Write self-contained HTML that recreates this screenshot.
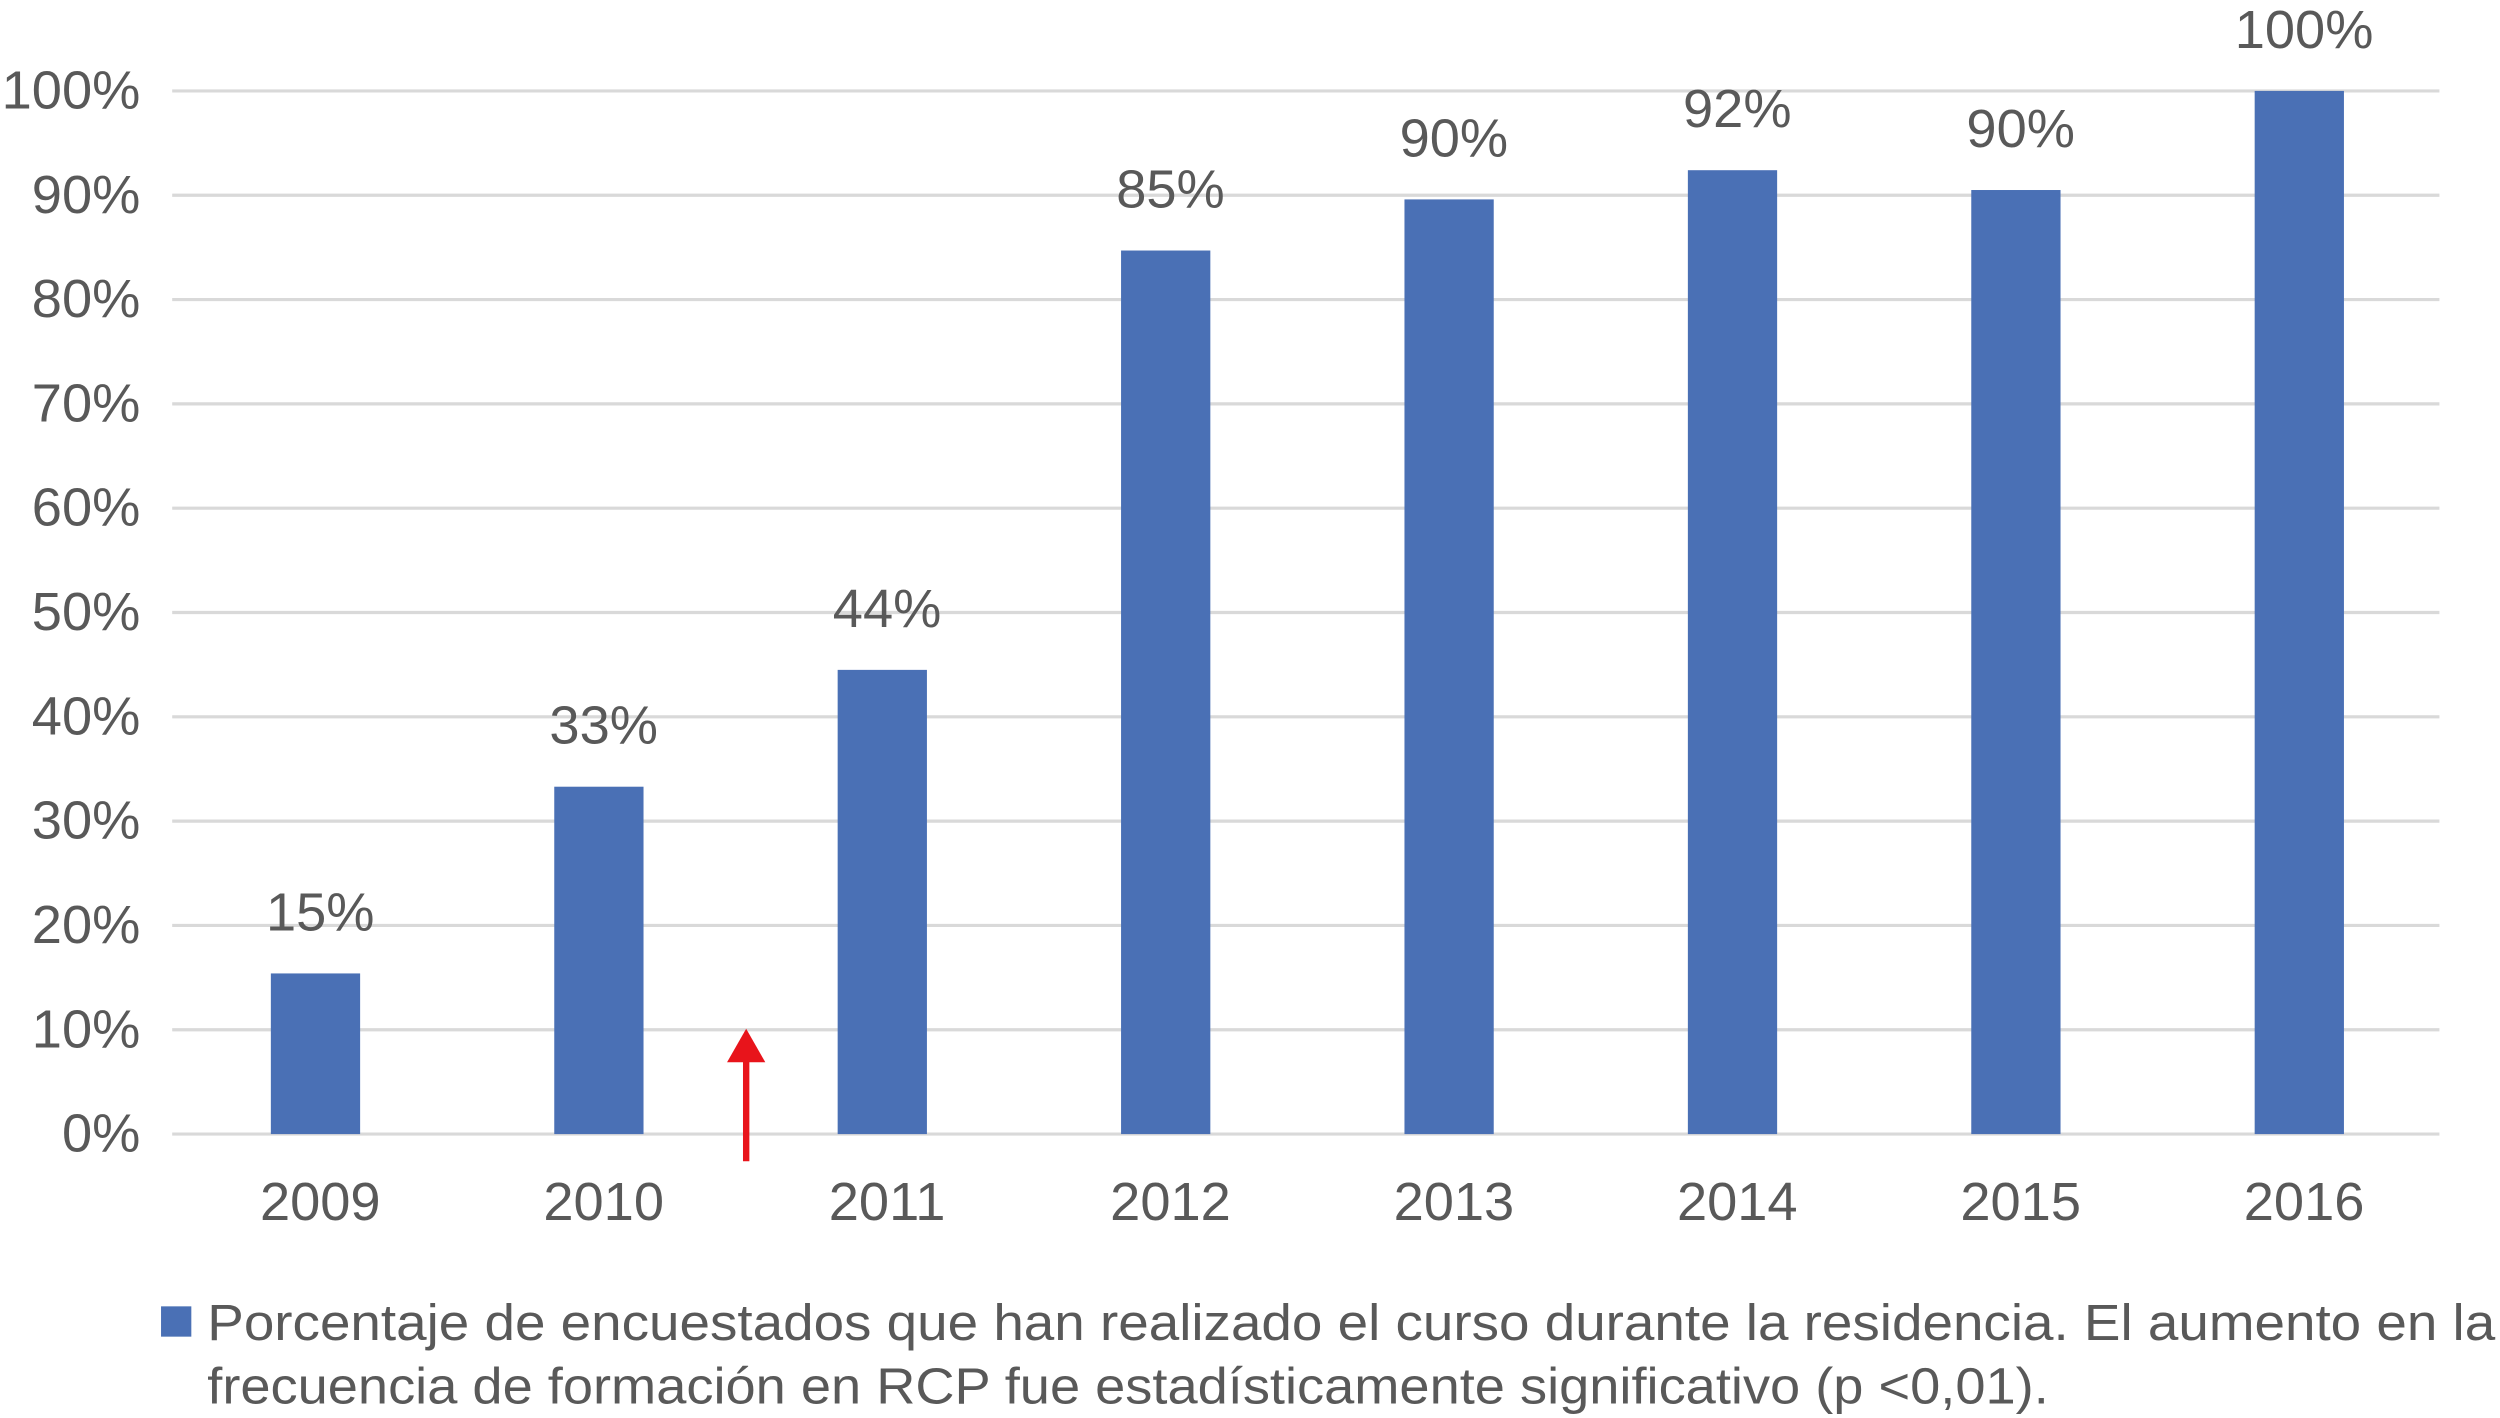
<!DOCTYPE html>
<html><head><meta charset="utf-8"><style>
html,body{margin:0;padding:0;background:#fff;}
svg{display:block;}
text{font-family:"Liberation Sans",Arial,sans-serif;fill:#595959;}
</style></head><body>
<svg id="chart" width="2500" height="1418" viewBox="0 0 1568 889" preserveAspectRatio="none" xmlns="http://www.w3.org/2000/svg">
<g id="grid"></g>
<g id="yticks"></g>
<g id="bars"></g>
<g id="xticks"></g>
<g>
<line x1="468" y1="728" x2="468" y2="662" stroke="#e8141b" stroke-width="4"/>
<polygon points="456,666 480,666 468,645" fill="#e8141b"/>
</g>
<g>
<rect x="101" y="819" width="19" height="19" fill="#4a70b5"/>
<text x="130" y="840" font-size="32" textLength="1435" lengthAdjust="spacingAndGlyphs">Porcentaje de encuestados que han realizado el curso durante la residencia. El aumento en la</text>
<text x="130" y="880" font-size="32" textLength="1155" lengthAdjust="spacingAndGlyphs">frecuencia de formación en RCP fue estadísticamente significativo (p &lt;0,01).</text>
</g>
</svg>
<script>
const categories = ["2009","2010","2011","2012","2013","2014","2015","2016"];
const values = [15.4, 33.3, 44.5, 84.7, 89.6, 92.4, 90.5, 100];
const valueLabels = ["15%","33%","44%","85%","90%","92%","90%","100%"];
const yTicks = [0,10,20,30,40,50,60,70,80,90,100];
const yTickLabels = ["0%","10%","20%","30%","40%","50%","60%","70%","80%","90%","100%"];

const NS = "http://www.w3.org/2000/svg";
const X0 = 108, X1 = 1530, Y0 = 711, Y1 = 57;
const band = (X1 - X0) / categories.length;
const xCenter = i => X0 + band * (i + 0.5);
const yScale = v => Y0 - (v / 100) * (Y0 - Y1);
function mk(tag, attrs, parent, txt) {
  const e = document.createElementNS(NS, tag);
  for (const k in attrs) e.setAttribute(k, attrs[k]);
  if (txt !== undefined) e.textContent = txt;
  parent.appendChild(e);
  return e;
}
const grid = document.getElementById('grid');
const yt = document.getElementById('yticks');
yTicks.forEach((t, i) => {
  const l = mk('line', {x1: X0, x2: X1, y1: yScale(t), y2: yScale(t), stroke: '#d9d9d9', 'stroke-width': 2}, grid);
  
  
  const tx = mk('text', {x: 88, y: yScale(t) + 11, 'font-size': 34, 'text-anchor': 'end'}, yt, yTickLabels[i]);
  
  
});
const bars = document.getElementById('bars');
const xt = document.getElementById('xticks');
const bw = band * 0.315;
categories.forEach((c, i) => {
  const r = mk('rect', {x: xCenter(i) - bw / 2 + 1, y: yScale(values[i]), width: bw, height: Y0 - yScale(values[i]), fill: '#4a70b5'}, bars);
  
  
  const vl = mk('text', {x: xCenter(i) + 4, y: yScale(values[i]) - 27, 'font-size': 34, 'text-anchor': 'middle'}, bars, valueLabels[i]);
  
  
  const xl = mk('text', {x: xCenter(i) + 4, y: 765, 'font-size': 34, 'text-anchor': 'middle'}, xt, c);
  
  
});
</script>
</body></html>
